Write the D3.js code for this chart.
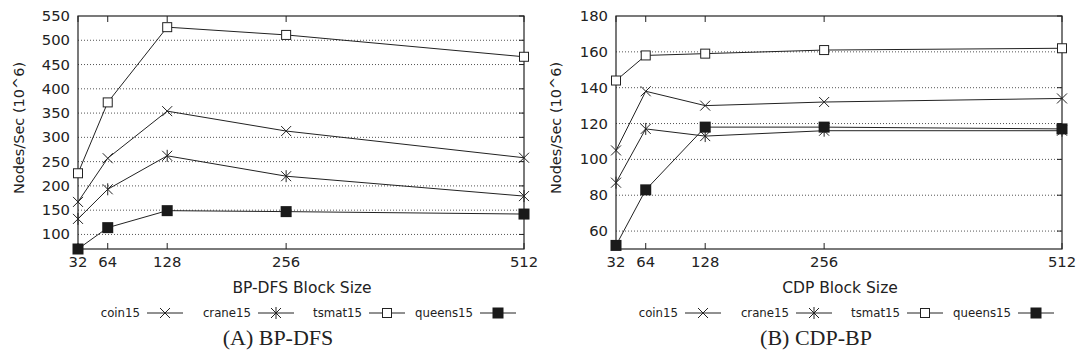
<!DOCTYPE html>
<html>
<head>
<meta charset="utf-8">
<script src="https://cdn.jsdelivr.net/npm/d3@7"></script>
<style>
  body { margin: 0; background: #fff; }
  text { font-family: "DejaVu Sans", sans-serif; fill: #222; }
</style>
</head>
<body>
<div id="drawing_region"></div>
<script>
// block sizes on the x axis
const blockSizes = [32, 64, 128, 256, 512];
const seriesNames = ["coin15", "crane15", "tsmat15", "queens15"];
const seriesMarkers = ["cross", "star", "square", "filled"];

// (A) BP-DFS
const bpdfsCoin = [167, 257, 354, 313, 258];
const bpdfsCrane = [132, 193, 262, 220, 179];
const bpdfsTsmat = [226, 372, 527, 511, 466];
const bpdfsQueens = [70, 114, 149, 147, 142];
const bpdfsYTicks = [100, 150, 200, 250, 300, 350, 400, 450, 500, 550];

// (B) CDP-BP
const cdpCoin = [105, 138, 130, 132, 134];
const cdpCrane = [87, 117, 113, 116, 116];
const cdpTsmat = [144, 158, 159, 161, 162];
const cdpQueens = [52, 83, 118, 118, 117];
const cdpYTicks = [60, 80, 100, 120, 140, 160, 180];

const panels = [
    {
        left: 78, yDomain: [70, 550], yTicks: bpdfsYTicks,
        series: [bpdfsCoin, bpdfsCrane, bpdfsTsmat, bpdfsQueens],
        xLabel: "BP-DFS Block Size", caption: "(A) BP-DFS", yLabelX: 24
    },
    {
        left: 616, yDomain: [50, 180], yTicks: cdpYTicks,
        series: [cdpCoin, cdpCrane, cdpTsmat, cdpQueens],
        xLabel: "CDP Block Size", caption: "(B) CDP-BP", yLabelX: 561
    }
];

const plotW = 446, plotTop = 16, plotBottom = 249;

const svg = d3.select('#drawing_region')
    .append('svg')
    .attr('width', 1079)
    .attr('height', 360);

function drawMarker(g, type, x, y) {
    const s = 5;
    if (type === 'cross') {
        g.append('path')
            .attr('d', `M${x - s},${y - s}L${x + s},${y + s}M${x - s},${y + s}L${x + s},${y - s}`)
            .attr('stroke', '#222').attr('stroke-width', 1).attr('fill', 'none');
    } else if (type === 'star') {
        g.append('path')
            .attr('d', `M${x - s},${y - s}L${x + s},${y + s}M${x - s},${y + s}L${x + s},${y - s}M${x},${y - s - 1}L${x},${y + s + 1}`)
            .attr('stroke', '#222').attr('stroke-width', 1).attr('fill', 'none');
    } else if (type === 'square') {
        g.append('rect')
            .attr('x', x - 4.5).attr('y', y - 4.5).attr('width', 9).attr('height', 9)
            .attr('fill', '#fff').attr('stroke', '#222').attr('stroke-width', 1);
    } else {
        g.append('rect')
            .attr('x', x - 5.5).attr('y', y - 5.5).attr('width', 11).attr('height', 11)
            .attr('fill', '#1a1a1a');
    }
}

panels.forEach(p => {
    const x = d3.scaleLinear().domain([32, 512]).range([p.left, p.left + plotW]);
    const y = d3.scaleLinear().domain(p.yDomain).range([plotBottom, plotTop]);
    const right = p.left + plotW;
    const g = svg.append('g');

    // dotted grid lines
    g.selectAll('.grid')
        .data(p.yTicks.filter(t => y(t) > plotTop + 1))
        .enter()
        .append('line')
        .attr('x1', p.left).attr('x2', right)
        .attr('y1', d => y(d)).attr('y2', d => y(d))
        .attr('stroke', '#555')
        .attr('stroke-width', 1)
        .attr('stroke-dasharray', '1,2');

    // right side ticks (mirrored)
    g.selectAll('.rtick')
        .data(p.yTicks)
        .enter()
        .append('line')
        .attr('x1', right - 5).attr('x2', right)
        .attr('y1', d => y(d)).attr('y2', d => y(d))
        .attr('stroke', '#222');

    // bottom and top ticks
    blockSizes.forEach(b => {
        g.append('line')
            .attr('x1', x(b)).attr('x2', x(b))
            .attr('y1', plotBottom).attr('y2', plotBottom - 6)
            .attr('stroke', '#222');
        g.append('line')
            .attr('x1', x(b)).attr('x2', x(b))
            .attr('y1', plotTop).attr('y2', plotTop + 6)
            .attr('stroke', '#222');
    });

    // frame
    g.append('rect')
        .attr('x', p.left).attr('y', plotTop)
        .attr('width', plotW).attr('height', plotBottom - plotTop)
        .attr('fill', 'none')
        .attr('stroke', '#222')
        .attr('stroke-width', 1.2);

    // tick labels
    g.selectAll('.ylab')
        .data(p.yTicks)
        .enter()
        .append('text')
        .attr('x', p.left - 8)
        .attr('y', d => y(d) + 5)
        .attr('text-anchor', 'end')
        .style('font-size', '14.8px')
        .text(d => d);

    g.selectAll('.xlab')
        .data(blockSizes)
        .enter()
        .append('text')
        .attr('x', d => x(d))
        .attr('y', 267)
        .attr('text-anchor', 'middle')
        .style('font-size', '14.8px')
        .text(d => d);

    // axis titles
    g.append('text')
        .attr('x', p.left + plotW / 2 + 1)
        .attr('y', 293)
        .attr('text-anchor', 'middle')
        .style('font-size', '15.5px')
        .text(p.xLabel);

    g.append('text')
        .attr('transform', `translate(${p.yLabelX},128) rotate(-90)`)
        .attr('text-anchor', 'middle')
        .style('font-size', '14.5px')
        .text('Nodes/Sec (10^6)');

    // series lines and markers
    const line = d3.line().x((d, i) => x(blockSizes[i])).y(d => y(d));
    p.series.forEach((vals, si) => {
        g.append('path')
            .attr('d', line(vals))
            .attr('fill', 'none')
            .attr('stroke', '#222')
            .attr('stroke-width', 1);
        vals.forEach((v, i) => drawMarker(g, seriesMarkers[si], x(blockSizes[i]), y(v)));
    });

    // legend
    seriesNames.forEach((name, si) => {
        const lx = p.left + 69 + si * 111;
        const ly = 313;
        g.append('text')
            .attr('x', lx - 7)
            .attr('y', ly + 4)
            .attr('text-anchor', 'end')
            .style('font-size', '11.75px')
            .text(name);
        g.append('line')
            .attr('x1', lx).attr('x2', lx + 36)
            .attr('y1', ly).attr('y2', ly)
            .attr('stroke', '#222');
        drawMarker(g, seriesMarkers[si], lx + 18, ly);
    });

    // caption
    g.append('text')
        .attr('x', p.left + plotW / 2 - 23)
        .attr('y', 345)
        .attr('text-anchor', 'middle')
        .style('font-family', '"Liberation Serif", serif')
        .style('font-size', '22px')
        .text(p.caption);
});
</script>
</body>
</html>
